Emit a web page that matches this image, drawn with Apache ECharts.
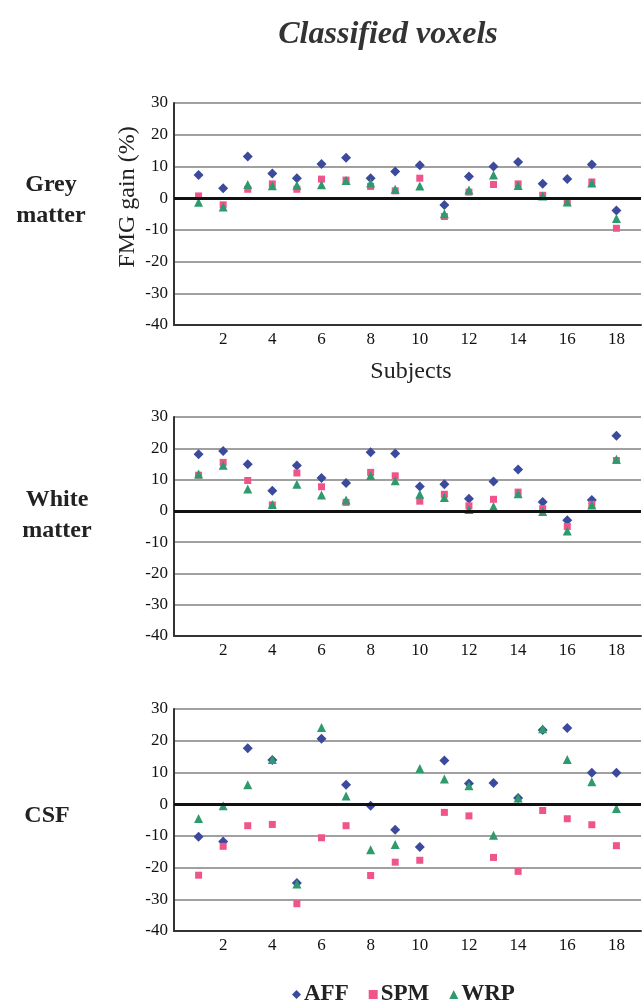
<!DOCTYPE html>
<html>
<head>
<meta charset="utf-8">
<script src="https://cdn.jsdelivr.net/npm/echarts@6/dist/echarts.min.js"></script>
<style>
  html, body { margin: 0; padding: 0; background: #fff; }
  #grafico { width: 644px; height: 1007px; }
</style>
</head>
<body>
<div id="grafico"></div>
<script>
var subjects = [1, 2, 3, 4, 5, 6, 7, 8, 9, 10, 11, 12, 13, 14, 15, 16, 17, 18];

// Grey matter
var greyAFF = [7.3, 3.1, 13.1, 7.8, 6.3, 10.8, 12.7, 6.3, 8.4, 10.4, -2.2, 6.8, 10.0, 11.4, 4.5, 6.0, 10.6, -3.9];
var greySPM = [0.7, -2.1, 2.8, 4.5, 2.8, 6.0, 5.7, 3.7, 2.3, 6.3, -5.8, 1.9, 4.3, 4.5, 0.9, -1.4, 5.1, -9.5];
var greyWRP = [-1.3, -2.8, 4.3, 3.9, 4.1, 4.2, 5.6, 4.8, 2.8, 3.8, -4.9, 2.6, 7.3, 4.0, 0.7, -1.2, 4.8, -6.4];

// White matter
var whiteAFF = [18.1, 19.1, 14.9, 6.4, 14.5, 10.5, 8.9, 18.7, 18.3, 7.8, 8.5, 3.9, 9.4, 13.2, 2.8, -3.0, 3.5, 24.0];
var whiteSPM = [11.4, 15.5, 9.7, 1.9, 12.1, 7.7, 2.7, 12.3, 11.2, 3.1, 5.3, 1.6, 3.7, 6.0, 0.7, -5.0, 2.1, 16.1];
var whiteWRP = [11.8, 14.6, 7.0, 2.0, 8.5, 5.1, 3.5, 11.3, 9.6, 5.3, 4.3, 0.4, 1.4, 5.5, -0.2, -6.4, 1.9, 16.5];

// CSF
var csfAFF = [-10.3, -11.8, 17.6, 13.9, -24.9, 20.6, 6.1, -0.5, -8.1, -13.5, 13.8, 6.5, 6.7, 1.9, 23.4, 24.0, 9.9, 9.9];
var csfSPM = [-22.4, -13.3, -6.8, -6.4, -31.4, -10.6, -6.8, -22.5, -18.3, -17.7, -2.6, -3.7, -16.8, -21.2, -2.0, -4.6, -6.5, -13.1];
var csfWRP = [-4.5, -0.5, 6.1, 14.1, -25.2, 24.2, 2.6, -14.4, -12.7, 11.2, 7.9, 5.8, -9.8, 1.9, 23.8, 14.1, 7.1, -1.4];

var methods = ['AFF', 'SPM', 'WRP'];
var panels = [
  { label: 'Grey\nmatter', values: [greyAFF, greySPM, greyWRP] },
  { label: 'White\nmatter', values: [whiteAFF, whiteSPM, whiteWRP] },
  { label: 'CSF', values: [csfAFF, csfSPM, csfWRP] }
];

var colors = ['#3b4a9c', '#ef558a', '#2f9a6e'];
var symbols = ['diamond', 'rect', 'triangle'];
var sizes = [10, 7, 9];
var serif = '"Liberation Serif", "DejaVu Serif", serif';

var gridTops = [103, 417, 709];
var gridHeights = [222, 219, 222];

var chartDom = document.getElementById('grafico');
var myChart = echarts.init(chartDom);

var grids = [], xAxes = [], yAxes = [], series = [];

panels.forEach(function (p, i) {
  grids.push({ left: 174, right: -7, top: gridTops[i], height: gridHeights[i] });
  xAxes.push({
    type: 'value', gridIndex: i, min: 0, max: 19, interval: 2,
    axisLine: { show: true, onZero: false, lineStyle: { color: '#333', width: 2 } },
    axisTick: { show: false },
    splitLine: { show: false },
    axisLabel: {
      margin: 6, color: '#111', fontFamily: serif, fontSize: 17,
      formatter: function (v) { return (v > 0 && v % 2 === 0) ? v : ''; }
    }
  });
  yAxes.push({
    type: 'value', gridIndex: i, min: -40, max: 30, interval: 10,
    axisLine: { show: true, lineStyle: { color: '#333', width: 2 } },
    axisTick: { show: false },
    splitLine: { show: true, lineStyle: { color: '#808080', width: 1.5 } },
    axisLabel: { margin: 6, color: '#111', fontFamily: serif, fontSize: 17 }
  });
  // zero line
  series.push({
    type: 'scatter', xAxisIndex: i, yAxisIndex: i, data: [], z: 1, silent: true,
    markLine: {
      silent: true, symbol: 'none', label: { show: false },
      lineStyle: { color: '#111', width: 3, type: 'solid' },
      data: [{ yAxis: 0 }]
    }
  });
  methods.forEach(function (m, k) {
    series.push({
      name: m, type: 'scatter', xAxisIndex: i, yAxisIndex: i, z: 3,
      symbol: symbols[k], symbolSize: sizes[k],
      itemStyle: { color: colors[k], opacity: 1 },
      data: subjects.map(function (s, j) { return [s, p.values[k][j]]; })
    });
  });
});

var labelX = [51, 57, 47];
var labelY = [200, 515, 816];

var graphic = [
  {
    type: 'text', x: 128, y: 197, rotation: Math.PI / 2,
    style: { text: 'FMG gain (%)', font: '24px ' + serif, fill: '#222', textAlign: 'center', textVerticalAlign: 'middle' }
  },
  {
    type: 'text', x: 411, y: 372,
    style: { text: 'Subjects', font: '24px ' + serif, fill: '#222', textAlign: 'center', textVerticalAlign: 'middle' }
  }
];
panels.forEach(function (p, i) {
  graphic.push({
    type: 'text', x: labelX[i], y: labelY[i],
    style: {
      text: p.label, font: 'bold 24px ' + serif, fill: '#222', lineHeight: 31,
      textAlign: 'center', textVerticalAlign: 'middle'
    }
  });
});

var option = {
  backgroundColor: '#fff',
  animation: false,
  title: {
    text: 'Classified voxels',
    left: 383, top: 14, textAlign: 'center',
    textStyle: { fontFamily: serif, fontSize: 32, fontWeight: 'bold', fontStyle: 'italic', color: '#333' }
  },
  legend: {
    data: [
      { name: 'AFF', icon: 'diamond' },
      { name: 'SPM', icon: 'rect' },
      { name: 'WRP', icon: 'triangle' }
    ],
    left: 287, top: 978, itemWidth: 9, itemHeight: 9, itemGap: 20,
    textStyle: { fontFamily: serif, fontSize: 23, fontWeight: 'bold', color: '#222', padding: [0, 0, 0, -2] }
  },
  grid: grids,
  xAxis: xAxes,
  yAxis: yAxes,
  graphic: graphic,
  series: series
};

option && myChart.setOption(option);
</script>
</body>
</html>
